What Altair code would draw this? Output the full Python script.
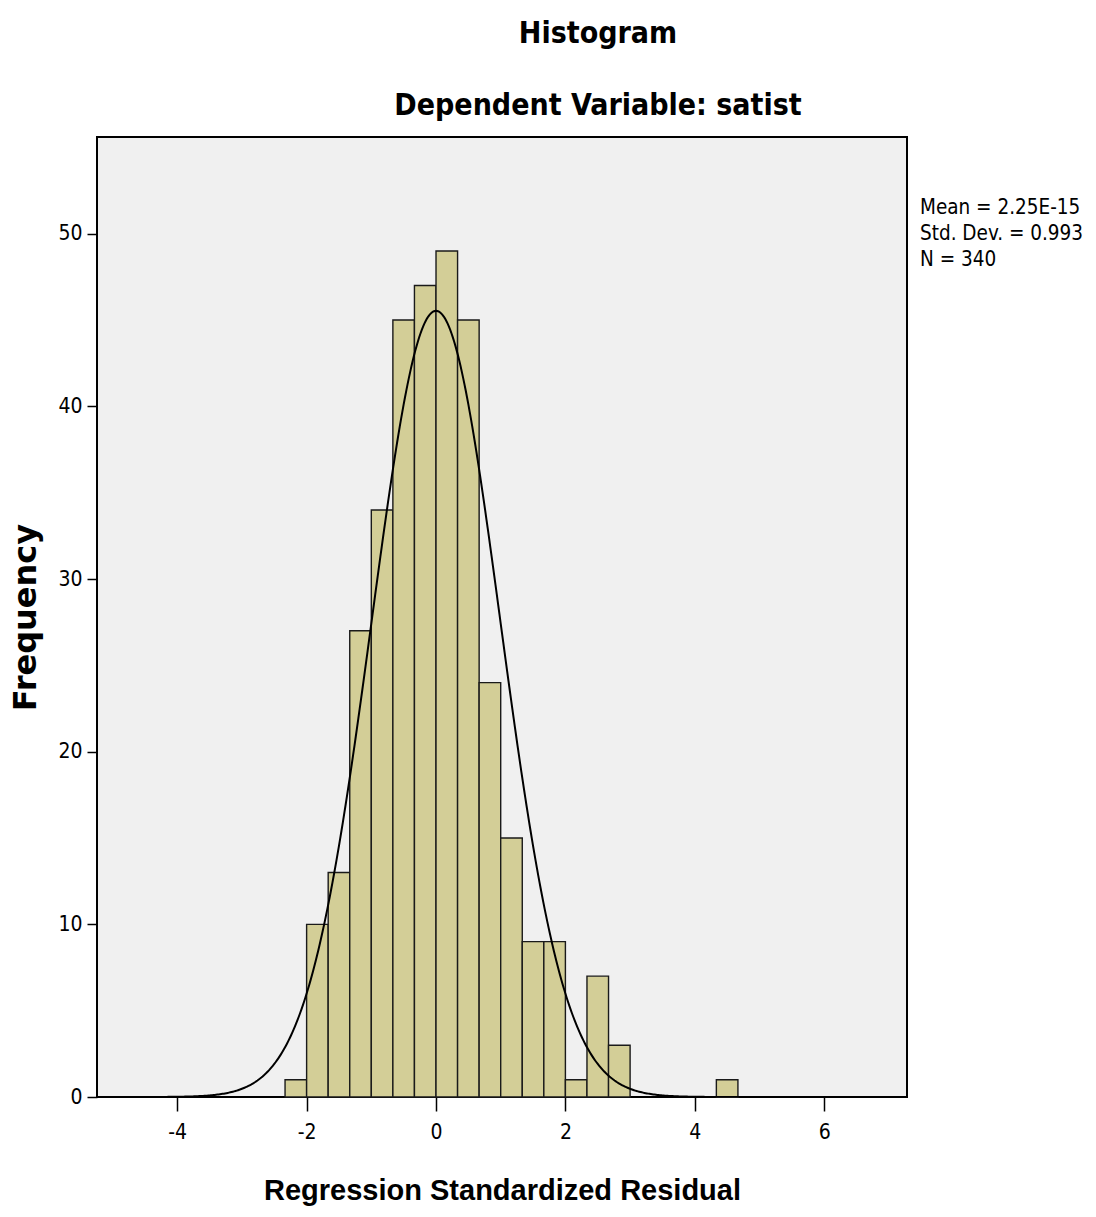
import altair as alt
import pandas as pd

# Histogram bins (width 1/3, start = k/3) and counts
bin_index = [-7, -6, -5, -4, -3, -2, -1, 0, 1, 2, 3, 4, 5, 6, 7, 8, 9, 10, 11, 12, 13]
counts = [1, 10, 13, 27, 34, 45, 47, 49, 45, 24, 15, 9, 9, 1, 7, 3, 0, 0, 0, 0, 1]
bin_width = 1 / 3

mean_val = 2.25e-15
sd_val = 0.993
n_val = 340
stats_lines = ["Mean = 2.25E-15", "Std. Dev. = 0.993", "N = 340"]

x_ticks = [-4, -2, 0, 2, 4, 6]
y_ticks = [0, 10, 20, 30, 40, 50]
x_domain = [-5.24, 7.28]
y_domain = [0, 55.6]

FONT_N = "Liberation Sans Narrow, DejaVu Sans Condensed, Liberation Sans"
FONT = "Liberation Sans, Arial"

bars_df = pd.DataFrame({
    "start": [k * bin_width for k in bin_index],
    "end": [(k + 1) * bin_width for k in bin_index],
    "count": counts,
})
bars_df = bars_df[bars_df["count"] > 0]

xs = alt.X("start:Q",
           scale=alt.Scale(domain=x_domain, nice=False, zero=False),
           axis=alt.Axis(values=x_ticks, title="Regression Standardized Residual",
                         labelExpr="'' + datum.value",
                         grid=False, tickSize=14, tickColor="black", tickWidth=1.5,
                         domain=False, labelFont=FONT_N, labelFontSize=21,
                         labelColor="black", labelPadding=10,
                         titleFont=FONT, titleFontSize=29, titleFontWeight="bold",
                         titleColor="black", titlePadding=34))
ys = alt.Y("count:Q",
           scale=alt.Scale(domain=y_domain, nice=False),
           axis=alt.Axis(values=y_ticks, title="Frequency", grid=False,
                         labelExpr="'' + datum.value",
                         tickSize=10, tickColor="black", tickWidth=1.5,
                         domain=False, labelFont=FONT_N, labelFontSize=21,
                         labelColor="black", labelPadding=5,
                         titleFont="DejaVu Sans", titleFontSize=32, titleFontWeight="bold",
                         titleColor="black", titlePadding=15))

bars = alt.Chart(bars_df).mark_rect(
    fill="#D3CE97", stroke="#1a1a1a", strokeWidth=1.4
).encode(x=xs, x2="end:Q", y=ys, y2=alt.datum(0))

curve = alt.Chart(alt.sequence(start=x_domain[0], stop=x_domain[1], step=0.02, as_="x")).transform_calculate(
    y=f"{n_val}*{bin_width}*exp(-0.5*pow((datum.x-{mean_val})/{sd_val},2))/({sd_val}*sqrt(2*PI))"
).mark_line(color="black", strokeWidth=2, clip=True).encode(
    x=alt.X("x:Q", scale=alt.Scale(domain=x_domain, nice=False, zero=False)),
    y=alt.Y("y:Q", scale=alt.Scale(domain=y_domain, nice=False)),
)

stats = alt.Chart(pd.DataFrame({"line": stats_lines, "i": [0, 1, 2]})).mark_text(
    align="left", baseline="middle", font=FONT_N, fontSize=20.5, color="black"
).encode(
    x=alt.value(823),
    y=alt.Y("i:Q", scale=alt.Scale(domain=[0, 2], range=[71, 123]), axis=None),
    text="line:N",
)

chart = alt.layer(alt.layer(bars, curve), stats).resolve_scale(y="independent").properties(
    width=810, height=960,
    autosize=alt.AutoSizeParams(type="none"),
    padding={"left": 97, "top": 137, "right": 189, "bottom": 120},
    title=alt.TitleParams(
        text="Histogram", subtitle="Dependent Variable: satist",
        font=FONT_N, fontSize=30, fontWeight="bold", color="black",
        subtitleFont=FONT_N, subtitleFontSize=30, subtitleFontWeight="bold",
        subtitleColor="black", subtitlePadding=42,
        anchor="middle", dx=96, offset=16,
    ),
).configure(background="white").configure_view(
    fill="#F0F0F0", stroke="black", strokeWidth=2
)

chart.save("out.html", embed_options={"renderer": "svg", "actions": False})
